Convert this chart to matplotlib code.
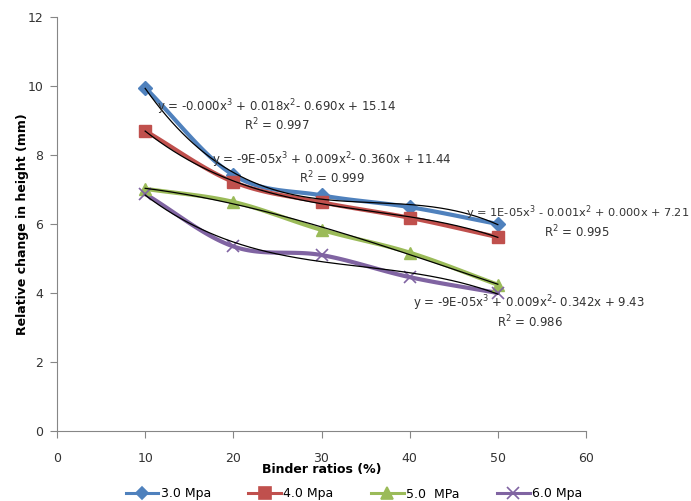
import numpy as np
import matplotlib
matplotlib.use("Agg")
import matplotlib.pyplot as plt
from matplotlib.lines import Line2D

binder = [10, 20, 30, 40, 50]
s30 = [9.95, 7.42, 6.83, 6.49, 6.0]
s40 = [8.7, 7.22, 6.63, 6.18, 5.62]
s50 = [7.02, 6.64, 5.83, 5.17, 4.24]
s60 = [6.87, 5.35, 5.1, 4.46, 4.0]
labels = ["3.0 Mpa", "4.0 Mpa", "5.0  MPa", "6.0 Mpa"]
colors = ["#4F81BD", "#C0504D", "#9BBB59", "#8064A2"]
markers = ["D", "s", "^", "x"]
eqs = ["y = -0.000x$^3$ + 0.018x$^2$- 0.690x + 15.14",
       "y = -9E-05x$^3$ + 0.009x$^2$- 0.360x + 11.44",
       "y = 1E-05x$^3$ - 0.001x$^2$ + 0.000x + 7.21",
       "y = -9E-05x$^3$ + 0.009x$^2$- 0.342x + 9.43"]
r2 = ["R$^2$ = 0.997", "R$^2$ = 0.999", "R$^2$ = 0.995", "R$^2$ = 0.986"]

plt.rcParams['font.family'] = ['DejaVu Sans']
plt.rcParams['mathtext.fontset'] = 'dejavusans'

def catmull(x, y, n=30):
    x = np.asarray(x, float); y = np.asarray(y, float)
    P = np.column_stack([x, y])
    P = np.vstack([P[0] - (P[1] - P[0]), P, P[-1] + (P[-1] - P[-2])])
    out = []
    for i in range(1, len(P) - 2):
        p0, p1, p2, p3 = P[i-1], P[i], P[i+1], P[i+2]
        for t in np.linspace(0, 1, n, endpoint=False):
            t2, t3 = t*t, t*t*t
            pt = 0.5*((2*p1) + (-p0 + p2)*t + (2*p0 - 5*p1 + 4*p2 - p3)*t2 + (-p0 + 3*p1 - 3*p2 + p3)*t3)
            out.append(pt)
    out.append(P[-2])
    out = np.array(out)
    return out[:, 0], out[:, 1]

fig = plt.figure(figsize=(6.91, 5.01), dpi=100)
ax = fig.add_axes([57/691, 70/501, 529/691, 414/501])
series = [s30, s40, s50, s60]
handles = []
for s, c, m, lab in zip(series, colors, markers, labels):
    sx, sy = catmull(binder, s)
    ax.plot(sx, sy, color=c, lw=3.0, solid_capstyle='round', zorder=2)
    if m == 'x':
        ax.plot(binder, s, linestyle='none', marker=m, color=c, ms=9, mew=1.2, zorder=3)
    else:
        ax.plot(binder, s, linestyle='none', marker=m, color=c, ms=8 if m != 'D' else 7, zorder=3)
    coef = np.polyfit(binder, s, 3)
    xx = np.linspace(10, 50, 200)
    ax.plot(xx, np.polyval(coef, xx), color='black', lw=0.9, zorder=4)
    handles.append(Line2D([], [], color=c, lw=2.2, marker=m, ms=8 if m != 'D' else 6, mew=1.2))

ax.set_xlim(0, 60)
ax.set_ylim(0, 12)
ax.set_xticks(range(0, 61, 10))
ax.set_yticks(range(0, 13, 2))
for sp in ['top', 'right']:
    ax.spines[sp].set_visible(False)
for sp in ['left', 'bottom']:
    ax.spines[sp].set_color('#868686')
ax.tick_params(axis='both', direction='out', length=5, color='#868686', labelsize=9, labelcolor='#333333')
ax.tick_params(axis='x', pad=10)
ax.tick_params(axis='y', pad=5)
ax.set_xlabel("Binder ratios (%)", fontsize=9, fontweight='bold', labelpad=-1)
ax.set_ylabel("Relative change in height (mm)", fontsize=9, fontweight='bold', labelpad=-1)

tk = dict(color='#333333', transform=fig.transFigure, va='center')
def F(px, py):
    return px/691, 1 - py/501
fig.text(*F(157, 107), eqs[0], ha='left', fontsize=8.5, **tk)
fig.text(*F(277, 125), r2[0], ha='center', fontsize=8.5, **tk)
fig.text(*F(212, 160), eqs[1], ha='left', fontsize=8.5, **tk)
fig.text(*F(332, 178), r2[1], ha='center', fontsize=8.5, **tk)
fig.text(*F(689, 213), eqs[2], ha='right', fontsize=8.2, **tk)
fig.text(*F(577, 232), r2[2], ha='center', fontsize=8.5, **tk)
fig.text(*F(413, 303), eqs[3], ha='left', fontsize=8.5, **tk)
fig.text(*F(530, 322), r2[3], ha='center', fontsize=8.5, **tk)

fig.legend(handles, labels, loc='center', bbox_to_anchor=(354/691, 1 - 494/501), ncol=4,
           frameon=False, fontsize=9, handlelength=2.6, columnspacing=3.0, handletextpad=0.2)

fig.savefig("out.png", dpi=100)
